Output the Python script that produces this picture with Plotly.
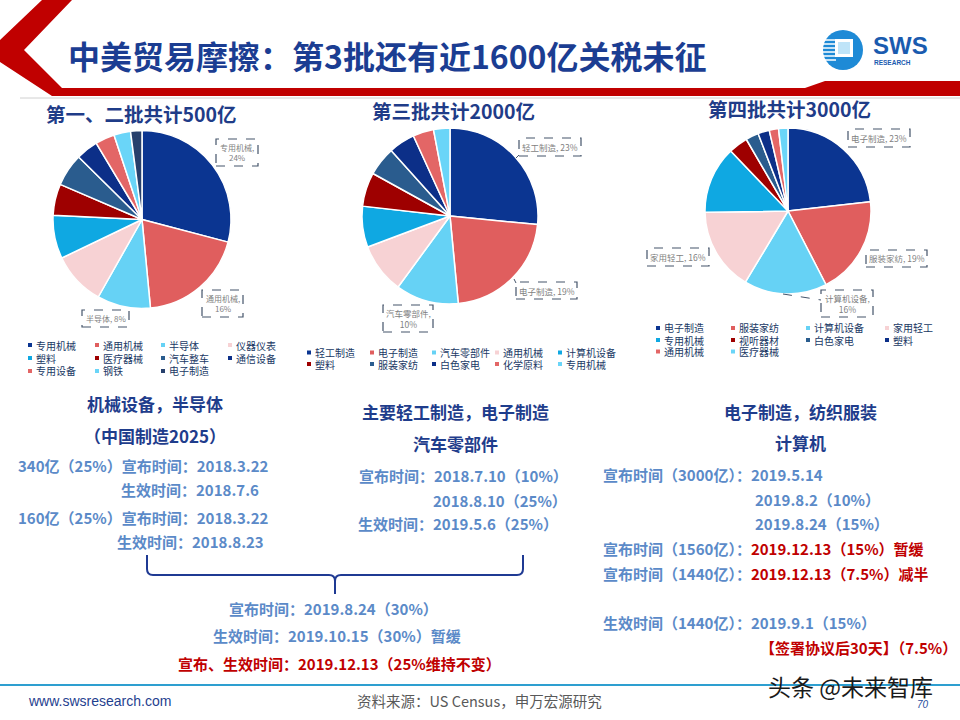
import plotly.graph_objects as go

# ---------------- data ----------------
pie1_title = "第一、二批共计500亿"
pie1_labels = ["专用机械", "通用机械", "半导体", "仪器仪表", "塑料", "医疗器械",
               "汽车整车", "通信设备", "专用设备", "钢铁", "电子制造"]
pie1_values = [24, 16, 8, 8, 6.5, 4.7, 4.9, 3.3, 2.9, 2.5, 1.7]

pie2_title = "第三批共计2000亿"
pie2_labels = ["轻工制造", "电子制造", "汽车零部件", "通用机械", "计算机设备",
               "塑料", "服装家纺", "白色家电", "化学原料", "专用机械"]
pie2_values = [23, 19, 10, 8, 6.5, 5.4, 4.6, 4.2, 3.3, 2.6]

pie3_title = "第四批共计3000亿"
pie3_labels = ["电子制造", "服装家纺", "计算机设备", "家用轻工", "专用机械",
               "视听器材", "白色家电", "塑料", "通用机械", "医疗器械"]
pie3_values = [23, 19, 16, 16, 13, 3.7, 2.5, 2.2, 1.8, 1.8]

palette = ["#0B3591", "#E05E5E", "#66D2F5", "#F7D2D4", "#0FA8E2", "#9E0000",
           "#2A5C8E", "#0C2F88", "#E36666", "#6AD5F8", "#27406C"]

# ---------------- helpers ----------------
W, H = 960, 720
CJK = "Noto Sans CJK SC"
NAVY = "#1F3D8C"
LBLUE = "#5B8AC8"
RED = "#C00000"
GRAY = "#7F7F7F"


def X(x):
    return x / W


def Y(y):
    return 1 - y / H


anns = []
shapes = []


def text(x, y, s, size, color, anchor="left", bold=False, family=CJK):
    anns.append(dict(x=X(x), y=Y(y), xref="paper", yref="paper",
                     text=f"<b>{s}</b>" if bold else s, showarrow=False,
                     xanchor=anchor, yanchor="middle", borderpad=0,
                     font=dict(size=size, color=color, family=family)))


def rect(x0, y0, x1, y1, fill=None, line=None, dash="solid", lw=1):
    shapes.append(dict(type="rect", xref="paper", yref="paper",
                       x0=X(x0), x1=X(x1), y0=Y(y1), y1=Y(y0),
                       fillcolor=fill or "rgba(0,0,0,0)",
                       line=dict(color=line or "rgba(0,0,0,0)", width=lw if line else 0, dash=dash)))


def line(x0, y0, x1, y1, color, width=1, dash="solid"):
    shapes.append(dict(type="line", xref="paper", yref="paper",
                       x0=X(x0), x1=X(x1), y0=Y(y0), y1=Y(y1),
                       line=dict(color=color, width=width, dash=dash)))


def path(pts, fill=None, color=None, width=0, closed=True):
    d = "M " + " L ".join(f"{X(a):.5f},{Y(b):.5f}" for a, b in pts)
    if closed:
        d += " Z"
    shapes.append(dict(type="path", xref="paper", yref="paper", path=d,
                       fillcolor=fill or "rgba(0,0,0,0)",
                       line=dict(color=color or "rgba(0,0,0,0)", width=width)))


fig = go.Figure()

# ---------------- pies ----------------
pies = [
    (pie1_title, pie1_labels, pie1_values, (142, 219.5, 89), (141, 113)),
    (pie2_title, pie2_labels, pie2_values, (450, 216, 88), (453, 110)),
    (pie3_title, pie3_labels, pie3_values, (788, 211, 83), (789, 108)),
]
for title, labels, values, (cx, cy, r), (tx, ty) in pies:
    fig.add_trace(go.Pie(
        labels=labels, values=values, sort=False, direction="clockwise", rotation=0,
        marker=dict(colors=palette[:len(values)], line=dict(color="white", width=1.5)),
        textinfo="none", hoverinfo="label+value", showlegend=False,
        domain=dict(x=[X(cx - r), X(cx + r)], y=[Y(cy + r), Y(cy - r)]),
    ))
    text(tx, ty, title, 19.5, "#1F3C88", anchor="center", bold=True)

# ---------------- legends (drawn from labels & palette) ----------------
legend_layouts = [
    (pie1_labels, [30, 97, 163, 230], [345, 358, 371]),
    (pie2_labels, [309, 372, 434, 497, 560], [352.5, 364]),
    (pie3_labels, [658, 733, 808, 887], [328, 340, 351.5]),
]
for labels, cols, rows in legend_layouts:
    for i, lab in enumerate(labels):
        cxm = cols[i % len(cols)]
        cym = rows[i // len(cols)]
        rect(cxm - 2, cym - 2, cxm + 2, cym + 2, fill=palette[i])
        text(cxm + 5, cym, lab, 10, "#203864")

# ---------------- callouts ----------------
callouts = [
    ("专用机械,<br>24%", (216, 139, 258, 166), 8),
    ("通用机械,<br>16%", (202, 290, 243, 317), 8),
    ("半导体, 8%", (82, 310, 129, 327), 8),
    ("轻工制造, 23%", (519, 138, 581, 156), 8.5),
    ("电子制造, 19%", (516, 282, 577, 299), 8.5),
    ("汽车零部件,<br>10%", (383, 305, 433, 332), 8.5),
    ("电子制造, 23%", (848, 129, 910, 147), 8.5),
    ("服装家纺, 19%", (866, 250, 927, 267), 8.5),
    ("计算机设备,<br>16%", (821, 290, 873, 317), 8.5),
    ("家用轻工, 16%", (647, 248, 709, 266), 8.5),
]
for s, (x0, y0, x1, y1), fs in callouts:
    rect(x0, y0, x1, y1, line="#44546A", dash="dash", lw=1.2)
    text((x0 + x1) / 2, (y0 + y1) / 2, s, fs, GRAY, anchor="center")
line(783, 294, 821, 300, "#44546A", 1, "dash")
line(516, 283, 514, 279, "#44546A", 1)
line(519, 155, 516, 158, "#44546A", 1)

# ---------------- header ----------------
path([(42, 0), (72, 0), (24, 50), (62, 88), (805, 88), (825, 81), (960, 81),
      (960, 96), (52, 96), (0, 62), (0, 40)], fill="#C00000")
line(20, 98, 960, 98, "#D0D0D0", 1)
text(67, 55, "中美贸易摩擦：第3批还有近1600亿关税未征", 32, "#1B3D92", bold=True)

# logo
shapes.append(dict(type="circle", xref="paper", yref="paper",
                   x0=X(823), x1=X(863), y0=Y(70), y1=Y(30),
                   fillcolor="#1E8AD6", line=dict(width=0)))
for yy in [40, 44, 48, 52, 56, 60]:
    line(823, yy, 836, yy, "white", 1.5)
rect(835, 39, 853, 57, fill="white")
rect(838, 42, 850, 54, fill="#BFE4F8")
text(872, 45, "SWS", 24, "#1A5BAF", bold=True, family="Liberation Sans")
text(873, 62, "RESEARCH", 6.5, "#1A5BAF", bold=True, family="Liberation Sans")

# ---------------- text blocks ----------------
# block 1
text(155, 403, "机械设备，半导体", 17, NAVY, anchor="center", bold=True)
text(155, 435, "（中国制造2025）", 17, NAVY, anchor="center", bold=True)
text(17, 465, "340亿（25%）宣布时间：2018.3.22", 15, LBLUE, bold=True)
text(120, 489, "生效时间：2018.7.6", 15, LBLUE, bold=True)
text(17, 517, "160亿（25%）宣布时间：2018.3.22", 15, LBLUE, bold=True)
text(116, 541, "生效时间：2018.8.23", 15, LBLUE, bold=True)

# block 2
text(455, 411, "主要轻工制造，电子制造", 17, NAVY, anchor="center", bold=True)
text(455, 443, "汽车零部件", 17, NAVY, anchor="center", bold=True)
text(358, 475, "宣布时间：2018.7.10（10%）", 15, LBLUE, bold=True)
text(432, 500, "2018.8.10（25%）", 15, LBLUE, bold=True)
text(357, 523, "生效时间：2019.5.6（25%）", 15, LBLUE, bold=True)

# block 3
text(800, 411, "电子制造，纺织服装", 17, NAVY, anchor="center", bold=True)
text(800, 442, "计算机", 17, NAVY, anchor="center", bold=True)
text(602, 474, "宣布时间（3000亿）：2019.5.14", 15, LBLUE, bold=True)
text(754, 499, "2019.8.2（10%）", 15, LBLUE, bold=True)
text(754, 523, "2019.8.24（15%）", 15, LBLUE, bold=True)
text(602, 548, f"宣布时间（1560亿）：<span style='color:{RED}'>2019.12.13（15%）暂缓</span>", 15, LBLUE, bold=True)
text(602, 573, f"宣布时间（1440亿）：<span style='color:{RED}'>2019.12.13（7.5%）减半</span>", 15, LBLUE, bold=True)
text(602, 622, "生效时间（1440亿）：2019.9.1（15%）", 15, LBLUE, bold=True)
text(759, 647, "【签署协议后30天】（7.5%）", 15, RED, bold=True)

# brace
shapes.append(dict(
    type="path", xref="paper", yref="paper",
    path=(f"M {X(147)},{Y(555)} L {X(147)},{Y(569)} Q {X(147)},{Y(575)} {X(153)},{Y(575)} "
          f"L {X(329)},{Y(575)} Q {X(335)},{Y(575)} {X(335)},{Y(581)} L {X(335)},{Y(594)} "
          f"M {X(335)},{Y(581)} Q {X(335)},{Y(575)} {X(341)},{Y(575)} L {X(517)},{Y(575)} "
          f"Q {X(523)},{Y(575)} {X(523)},{Y(569)} L {X(523)},{Y(555)}"),
    line=dict(color="#1F3A93", width=2)))

text(333, 608, "宣布时间：2019.8.24（30%）", 15, LBLUE, anchor="center", bold=True)
text(337, 635, "生效时间：2019.10.15（30%）暂缓", 15, LBLUE, anchor="center", bold=True)
text(339, 663, "宣布、生效时间：2019.12.13（25%维持不变）", 15, RED, anchor="center", bold=True)

# ---------------- footer ----------------
line(0, 685, 960, 685, "#2E9FD0", 2)
text(27, 701, "www.swsresearch.com", 14, "#1F3F8F", family="Liberation Sans")
text(356, 700, "资料来源：US Census，申万宏源研究", 14.5, "#595959")
text(923, 704, "<i>70</i>", 10, "#1F4E9E", anchor="center", family="Liberation Sans")
text(850, 686, "头条 @未来智库", 23, "#1A1A1A", anchor="center")

fig.update_layout(
    width=W, height=H, margin=dict(l=0, r=0, t=0, b=0),
    paper_bgcolor="white", plot_bgcolor="white", showlegend=False,
    annotations=anns, shapes=shapes,
    font=dict(family=CJK),
)
fig.write_html("out.html")
